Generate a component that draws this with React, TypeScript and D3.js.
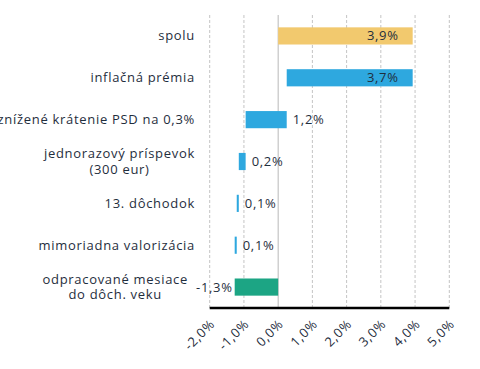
import React, { useEffect, useRef } from 'react';
import * as d3 from 'd3';

// top to bottom; first row is the total, the rest build up from the bottom
const categories = [
  ['spolu'],
  ['inflačná prémia'],
  ['znížené krátenie PSD na 0,3%'],
  ['jednorazový príspevok', '(300 eur)'],
  ['13. dôchodok'],
  ['mimoriadna valorizácia'],
  ['odpracované mesiace', 'do dôch. veku'],
];
const values = [3.93, 3.68, 1.2, 0.2, 0.06, 0.06, -1.27];
const isTotal = [true, false, false, false, false, false, false];
const xTicks = [-2, -1, 0, 1, 2, 3, 4, 5];

const W = 480, H = 369;
const FONT = '"Open Sans", sans-serif';
const TEXT = '#1f2e3d';
const LS = 0.7;
const fmt = (v: number) => v.toFixed(1).replace('.', ',') + '%';

export default function App() {
  const ref = useRef<SVGSVGElement>(null);
  useEffect(() => {
    const svg = d3.select(ref.current);
    svg.selectAll('*').remove();
    const m = { t: 15, b: 308, l: 209.7, r: 449.3 };
    const x = d3.scaleLinear().domain([-2, 5]).range([m.l, m.r]);
    const y = d3.scaleBand<number>().domain(d3.range(values.length)).range([m.t, m.b])
      .paddingInner(0.59).paddingOuter(0.295);

    // waterfall segments, accumulated from the bottom row upwards
    const segs: { a: number; b: number }[] = [];
    let acc = 0;
    for (let i = values.length - 1; i >= 0; i--) {
      if (isTotal[i]) { segs[i] = { a: 0, b: values[i] }; continue; }
      segs[i] = { a: acc, b: acc + values[i] };
      acc += values[i];
    }

    // gridlines
    svg.append('g').selectAll('line').data(xTicks).enter().append('line')
      .attr('x1', d => x(d)).attr('x2', d => x(d)).attr('y1', m.t).attr('y2', m.b)
      .attr('stroke', d => d === 0 ? '#b8b8b8' : '#c4c4c4').attr('stroke-width', 1)
      .attr('stroke-dasharray', d => d === 0 ? null : '3,2');

    const color = (i: number) => isTotal[i] ? '#f2c96e' : values[i] < 0 ? '#1ca584' : '#2ea8df';
    svg.append('g').selectAll('rect').data(values).enter().append('rect')
      .attr('x', (_, i) => x(Math.min(segs[i].a, segs[i].b)))
      .attr('width', (_, i) => Math.max(1.5, Math.abs(x(segs[i].b) - x(segs[i].a))))
      .attr('y', (_, i) => y(i)!)
      .attr('height', y.bandwidth())
      .attr('fill', (_, i) => color(i));

    const txt = (sel: any) => sel.attr('font-family', FONT).attr('font-size', 13)
      .attr('fill', TEXT).attr('letter-spacing', LS);

    // value labels
    svg.append('g').selectAll('text').data(values).enter().append('text')
      .call(txt)
      .attr('dy', '0.35em')
      .attr('y', (_, i) => y(i)! + y.bandwidth() / 2)
      .each(function (v, i) {
        const lo = x(Math.min(segs[i].a, segs[i].b)), hi = x(Math.max(segs[i].a, segs[i].b));
        const t = d3.select(this).text(fmt(v));
        if (hi - lo > 60) t.attr('x', hi - 14).attr('text-anchor', 'end');
        else if (v < 0) t.attr('x', lo - 2).attr('text-anchor', 'end');
        else t.attr('x', hi + 6).attr('text-anchor', 'start');
      });

    // category labels
    const labelRight = 195;
    categories.forEach((lines, i) => {
      const cy = y(i)! + y.bandwidth() / 2;
      const g = svg.append('g');
      const ts = lines.map((s, k) => g.append('text').call(txt)
        .attr('dy', '0.35em')
        .attr('y', cy + (k - (lines.length - 1) / 2) * 15.5)
        .text(s));
      if (lines.length === 1) {
        ts[0].attr('x', labelRight).attr('text-anchor', 'end');
      } else {
        const wmax = d3.max(ts, t => (t.node() as SVGTextElement).getComputedTextLength()) || 0;
        const right = i === categories.length - 1 ? labelRight - 7 : labelRight;
        ts.forEach(t => t.attr('x', right - wmax / 2).attr('text-anchor', 'middle'));
      }
    });

    // x axis
    svg.append('line').attr('x1', m.l).attr('x2', m.r).attr('y1', m.b).attr('y2', m.b)
      .attr('stroke', '#000').attr('stroke-width', 2.5);
    svg.append('g').selectAll('text').data(xTicks).enter().append('text')
      .call(txt)
      .attr('text-anchor', 'end')
      .attr('transform', d => `translate(${x(d) + 6},${m.b + 17}) rotate(-45)`)
      .text(d => fmt(d));
  }, []);
  return <svg ref={ref} width={W} height={H} style={{ position: 'absolute', left: 0, top: 0, background: '#fff' }} />;
}
